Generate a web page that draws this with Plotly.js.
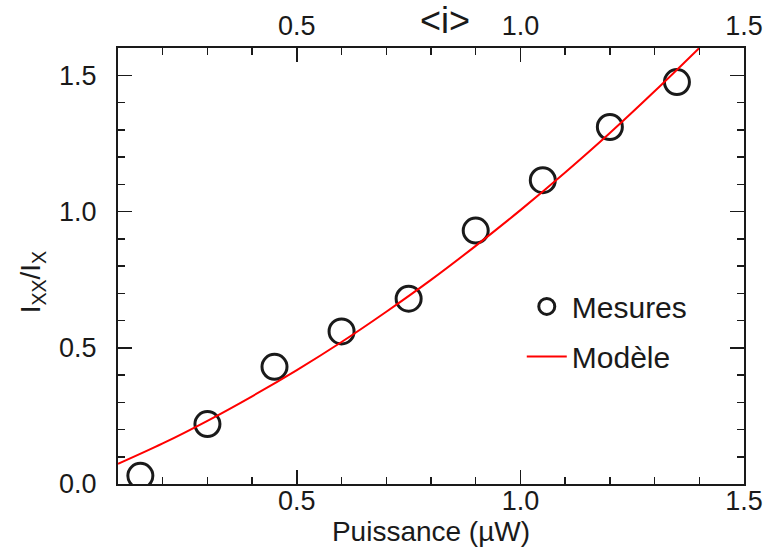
<!DOCTYPE html>
<html>
<head>
<meta charset="utf-8">
<script src="https://cdn.plot.ly/plotly-3.0.1.min.js"></script>
<style>html,body{margin:0;padding:0;background:#fff;}#chart{width:770px;height:553px;}</style>
</head>
<body>
<div id="chart"></div>
<script>
// Measured points
const mesuresX = [0.15, 0.30, 0.45, 0.60, 0.75, 0.90, 1.05, 1.20, 1.35];
const mesuresY = [0.03, 0.22, 0.43, 0.56, 0.68, 0.93, 1.115, 1.31, 1.475];
// Model curve
const modeleX = [0.10, 0.20, 0.30, 0.40, 0.50, 0.60, 0.70, 0.80, 0.90, 1.00, 1.10, 1.20, 1.30, 1.40];
const modeleY = [0.074, 0.149, 0.232, 0.322, 0.418, 0.521, 0.632, 0.749, 0.874, 1.005, 1.143, 1.288, 1.441, 1.600];
// Tick labels
const xTickVals = [0.5, 1.0, 1.5];
const xTickText = ['0.5', '1.0', '1.5'];
const yTickVals = [0.0, 0.5, 1.0, 1.5];
const yTickText = ['0.0', '0.5', '1.0', '1.5'];

const FONT = 'Liberation Sans, Arial, Helvetica, sans-serif';
const INK = '#1a1a1a';

const traces = [
  {
    x: mesuresX, y: mesuresY, type: 'scatter', mode: 'markers', name: 'Mesures',
    legendgroup: 'a',
    marker: {symbol: 'circle-open', size: 25, color: INK, line: {width: 3, color: INK}},
    cliponaxis: true
  },
  {
    x: modeleX, y: modeleY, type: 'scatter', mode: 'lines', name: 'Modèle',
    legendgroup: 'b',
    line: {color: '#ff0000', width: 2, shape: 'spline'}
  },
  {
    // empty trace so that the top axis <i> is drawn
    x: [], y: [], type: 'scatter', mode: 'markers', xaxis: 'x2', yaxis: 'y',
    showlegend: false, hoverinfo: 'skip'
  }
];

const common = {
  ticks: 'inside', ticklen: 14, tickwidth: 1.5, tickcolor: INK,
  showline: true, linewidth: 2, linecolor: INK,
  showgrid: false, zeroline: false,
  tickfont: {size: 27, color: INK, family: FONT},
  minor: {dtick: 0.1, tick0: 0, ticks: 'inside', ticklen: 7, tickwidth: 1.5, tickcolor: INK, showgrid: false}
};

const layout = {
  width: 770, height: 553,
  margin: {l: 118, r: 26, t: 48, b: 69},
  paper_bgcolor: '#fff', plot_bgcolor: '#fff',
  font: {family: FONT, color: INK},
  showlegend: true,
  legend: {
    x: 0.645, y: 0.467, xanchor: 'left', yanchor: 'top',
    bgcolor: 'rgba(0,0,0,0)', borderwidth: 0,
    font: {size: 30, family: FONT, color: INK},
    itemwidth: 40,
    traceorder: 'grouped', tracegroupgap: 8
  },
  xaxis: Object.assign({}, common, {
    range: [0.1, 1.5], tickmode: 'array', tickvals: xTickVals, ticktext: xTickText,
    ticklabelstandoff: -8,
    title: {text: 'Puissance (µW)', font: {size: 28, family: FONT, color: INK}, standoff: 5}
  }),
  xaxis2: Object.assign({}, common, {
    range: [0.1, 1.5], tickmode: 'array', tickvals: xTickVals, ticktext: xTickText,
    overlaying: 'x', side: 'top', anchor: 'y', ticklabelstandoff: 0
  }),
  yaxis: Object.assign({}, common, {
    range: [0, 1.6], tickmode: 'array', tickvals: yTickVals, ticktext: yTickText,
    mirror: 'ticks', ticklabelstandoff: 14
  }),
  annotations: [
    {text: 'I<sub>XX</sub>/I<sub>X</sub>', xref: 'paper', yref: 'paper', x: -0.137, y: 0.463,
     xanchor: 'center', yanchor: 'middle', textangle: -90, showarrow: false,
     font: {size: 28, family: FONT, color: INK}},
    {text: '&lt;i&gt;', xref: 'paper', yref: 'paper', x: 0.522, y: 1.063,
     xanchor: 'center', yanchor: 'middle', showarrow: false,
     font: {size: 36, family: FONT, color: INK}}
  ]
};

Plotly.newPlot('chart', traces, layout, {staticPlot: true, displayModeBar: false});
</script>
</body>
</html>
